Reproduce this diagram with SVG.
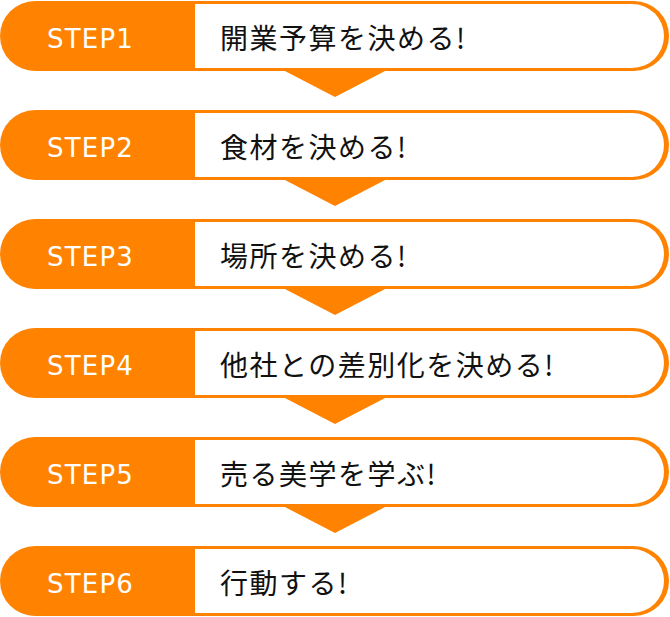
<svg xmlns="http://www.w3.org/2000/svg" width="670" height="617" viewBox="0 0 670 617">
<defs><style>
.o{fill:#ff8300}
.w{fill:#fff}
.s{font-family:"DejaVu Sans",sans-serif;font-size:26px;letter-spacing:1.2px;fill:#fff}
.t{font-family:"Noto Sans CJK JP",sans-serif;font-size:28px;letter-spacing:1.5px;fill:#111}
</style>
<g id="row"><rect class="o" x="0" y="0" width="669" height="70" rx="35"/><path class="w" d="M195 3H632A32 32 0 0 1 632 67H195Z"/></g>
</defs>
<g id="connectors">
<path class="o" d="M283 70H387L335 97Z"/>
<path class="o" d="M283 179H387L335 206Z"/>
<path class="o" d="M283 288H387L335 315Z"/>
<path class="o" d="M283 397H387L335 424Z"/>
<path class="o" d="M283 506H387L335 533Z"/>
</g>
<g id="step1" transform="translate(0,1)"><use href="#row"/><text class="s" x="47" y="47">STEP1</text><text class="t" x="220" y="48">開業予算を決める!</text></g>
<g id="step2" transform="translate(0,110)"><use href="#row"/><text class="s" x="47" y="47">STEP2</text><text class="t" x="220" y="48">食材を決める!</text></g>
<g id="step3" transform="translate(0,219)"><use href="#row"/><text class="s" x="47" y="47">STEP3</text><text class="t" x="220" y="48">場所を決める!</text></g>
<g id="step4" transform="translate(0,328)"><use href="#row"/><text class="s" x="47" y="47">STEP4</text><text class="t" x="220" y="48">他社との差別化を決める!</text></g>
<g id="step5" transform="translate(0,437)"><use href="#row"/><text class="s" x="47" y="47">STEP5</text><text class="t" x="220" y="48">売る美学を学ぶ!</text></g>
<g id="step6" transform="translate(0,546)"><use href="#row"/><text class="s" x="47" y="47">STEP6</text><text class="t" x="220" y="48">行動する!</text></g>
</svg>
